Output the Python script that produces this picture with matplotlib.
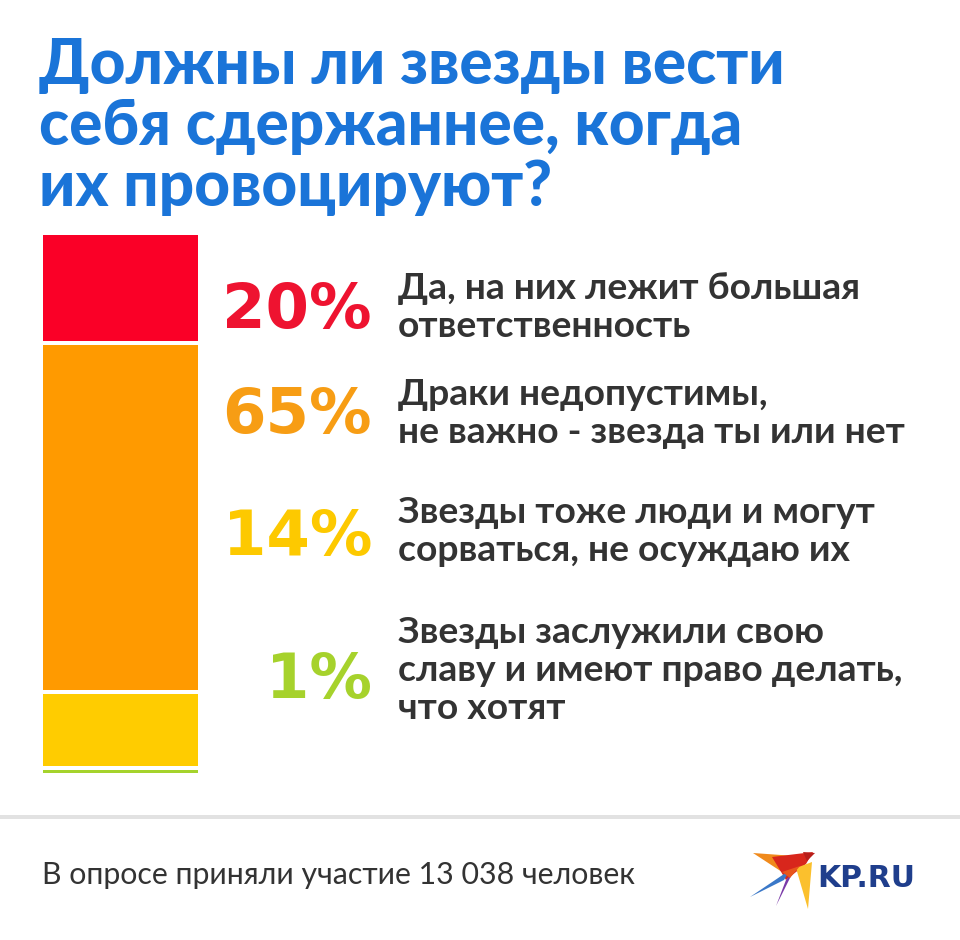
import matplotlib.pyplot as plt
from matplotlib.patches import Polygon
import numpy as np

# data
shares = [20, 65, 14, 1]
pct_labels = ["20%", "65%", "14%", "1%"]
answers = [
    ["Да, на них лежит большая", "ответственность"],
    ["Драки недопустимы,", "не важно - звезда ты или нет"],
    ["Звезды тоже люди и могут", "сорваться, не осуждаю их"],
    ["Звезды заслужили свою", "славу и имеют право делать,", "что хотят"],
]
colors = ["#fa0027", "#ff9a00", "#ffcc00", "#a5d32c"]
pct_colors = ["#ee1330", "#f79d14", "#fdc900", "#a6d22c"]
title_lines = ["Должны ли звезды вести", "себя сдержаннее, когда", "их провоцируют?"]
footer = "В опросе приняли участие 13 038 человек"

W, H = 960, 940
fig = plt.figure(figsize=(W / 100, H / 100), dpi=100)
fig.patch.set_facecolor("white")

# overlay axes in pixel coordinates
ov = fig.add_axes([0, 0, 1, 1])
ov.set_xlim(0, W)
ov.set_ylim(H, 0)
ov.axis("off")

FONT = ["Lato", "DejaVu Sans"]

# stacked bar
gap = 4.0  # px
bx0, bx1, by0, by1 = 43, 198, 235, 773
bar_ax = fig.add_axes([bx0 / W, 1 - by1 / H, (bx1 - bx0) / W, (by1 - by0) / H])
bottoms = np.concatenate([[0], np.cumsum(shares)[:-1]])
bar_ax.bar([0] * len(shares), shares, bottom=bottoms, width=1.0,
           color=colors, linewidth=0)
bar_ax.hlines(np.cumsum(shares)[:-1], -0.5, 0.5, colors="white",
              linewidth=gap * 72 / 100)
bar_ax.set_xlim(-0.5, 0.5)
bar_ax.set_ylim(sum(shares), 0)
bar_ax.axis("off")

# title
for i, line in enumerate(title_lines):
    ov.text(39, 84 + i * 61, line, color="#1a74d8", fontsize=44.7,
            fontweight="black", family=FONT, va="baseline", ha="left")

# percentages and answers
pct_base = [328, 433, 555, 698]
ans_base = [299, 405, 523, 643]
for k in range(len(shares)):
    ov.text(372, pct_base[k], pct_labels[k], color=pct_colors[k],
            fontsize=45, fontweight="bold", family=["DejaVu Sans"],
            va="baseline", ha="right")
    for j, line in enumerate(answers[k]):
        ov.text(398, ans_base[k] + j * 38, line, color="#333333",
                fontsize=26.8, fontweight="bold", family=FONT,
                va="baseline", ha="left")

# separator
ov.axhline(817, color="#e2e2e2", linewidth=4 * 72 / 100)

# footer
ov.text(42, 884, footer, color="#333333", fontsize=21.8, family=FONT,
        va="baseline", ha="left")

# logo: stylised bird + KP.RU
bird = [
    ([(753, 853), (795, 856), (782, 872)], "#f08a1c"),
    ([(772, 857), (813, 852), (806, 864), (786, 880)], "#d8261c"),
    ([(803, 852), (815, 853), (807, 861)], "#b81e1a"),
    ([(786, 880), (793, 872), (776, 906)], "#7a3aa8"),
    ([(750, 897), (790, 870), (784, 880)], "#3a78c8"),
    ([(796, 868), (812, 862), (808, 909)], "#fbc02d"),
    ([(782, 872), (800, 866), (790, 878)], "#e8561c"),
]
for pts, c in bird:
    ov.add_patch(Polygon(pts, closed=True, color=c, linewidth=0))
ov.text(817, 887, "KP.RU", color="#1f3e8c", fontsize=21.5, fontweight="heavy",
        family=["DejaVu Sans"], va="baseline", ha="left")

fig.savefig("out.png", dpi=100, facecolor="white")
